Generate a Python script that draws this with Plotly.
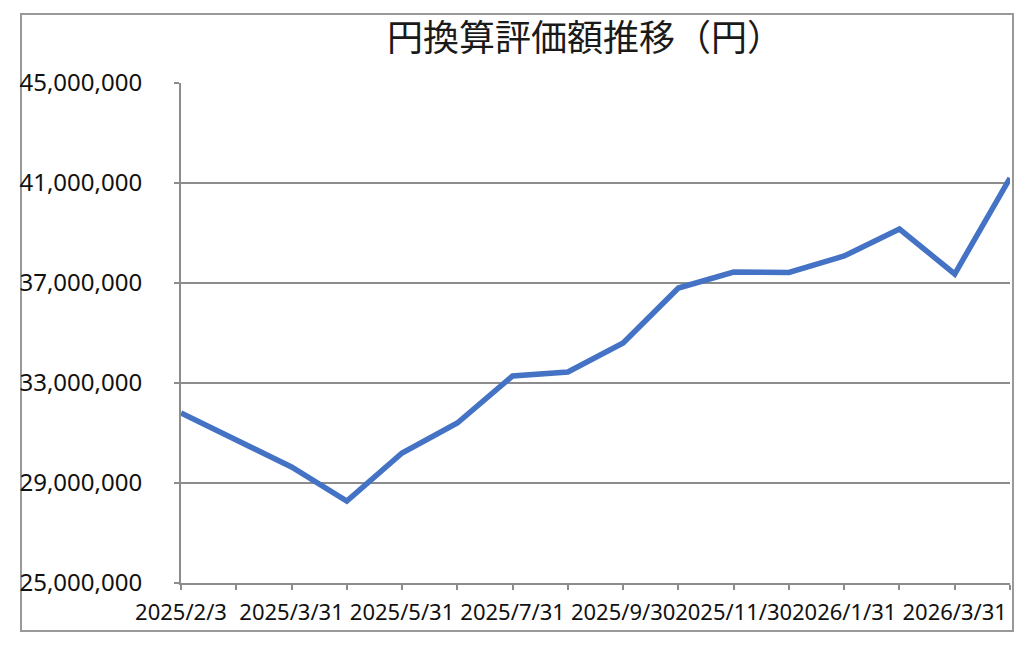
import plotly.graph_objects as go

# month-end snapshots (first one is the start date)
dates = ['2025/2/3', '2025/2/28', '2025/3/31', '2025/4/30', '2025/5/31',
         '2025/6/30', '2025/7/31', '2025/8/31', '2025/9/30', '2025/10/31',
         '2025/11/30', '2025/12/31', '2026/1/31', '2026/2/28', '2026/3/31',
         '2026/4/30']
jpy_value = [31800000, 30720000, 29640000, 28280000, 30200000,
             31400000, 33280000, 33440000, 34600000, 36800000,
             37440000, 37420000, 38080000, 39160000, 37360000,
             41200000]

title_text = '円換算評価額推移（円）'
y_ticks = [25000000, 29000000, 33000000, 37000000, 41000000, 45000000]

idx = list(range(len(dates)))

fig = go.Figure(
    go.Scatter(x=idx, y=jpy_value, mode='lines',
               line=dict(color='#4472C4', width=5.5),
               hoverinfo='y')
)

grey = '#8c8c8c'

fig.update_layout(
    width=1024, height=648,
    paper_bgcolor='white', plot_bgcolor='white',
    margin=dict(l=181, r=14, t=83, b=65),
    showlegend=False,
    font=dict(family='Noto Sans, Noto Sans CJK JP', color='#111111'),
    title=dict(text=title_text, x=585 / 1024, xanchor='center',
               y=1 - 38 / 648, yanchor='middle',
               font=dict(family='Noto Sans CJK JP', size=36, color='#1a1a1a')),
    xaxis=dict(
        range=[0, len(dates) - 1],
        tickmode='array', tickvals=idx[::2], ticktext=dates[::2],
        tickangle=0, automargin=False,
        ticks='outside', ticklen=5, tickwidth=2, tickcolor=grey,
        minor=dict(tickmode='array', tickvals=idx, ticks='outside',
                   ticklen=5, tickwidth=2, tickcolor=grey),
        showline=True, linecolor=grey, linewidth=2,
        showgrid=False, zeroline=False,
        tickfont=dict(size=22),
        ticklabelstandoff=4,
    ),
    yaxis=dict(
        range=[25000000, 45000000],
        tickmode='array', tickvals=y_ticks,
        tickformat=',d', automargin=False,
        ticks='outside', ticklen=5, tickwidth=2, tickcolor=grey,
        showline=True, linecolor=grey, linewidth=2,
        showgrid=True, gridcolor=grey, gridwidth=2,
        zeroline=False,
        tickfont=dict(size=24),
        ticklabelstandoff=27,
    ),
)

# chart outer frame
fig.add_shape(type='rect', xref='paper', yref='paper',
              x0=(21 - 181) / 829, x1=(1013 - 181) / 829,
              y0=(583 - 631) / 500, y1=(583 - 14) / 500,
              line=dict(color='#999999', width=2), fillcolor='rgba(0,0,0,0)',
              layer='below')

fig.write_html('out.html', config={'displayModeBar': False},
               post_script="document.body.style.margin='0';")
